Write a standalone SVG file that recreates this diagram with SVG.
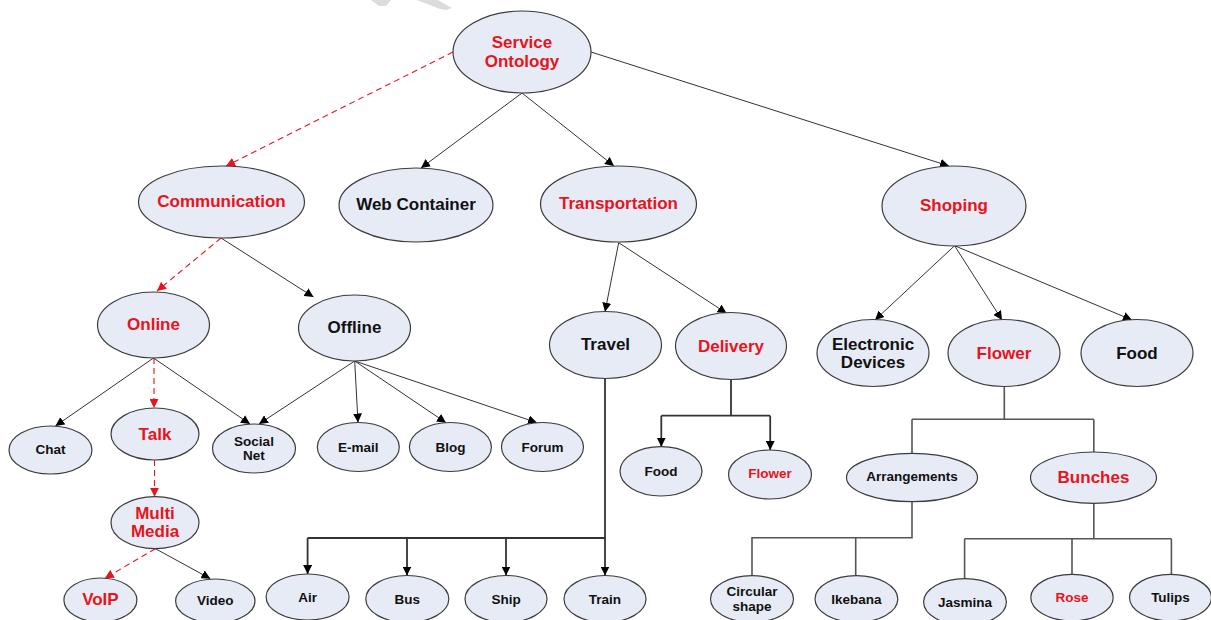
<svg xmlns="http://www.w3.org/2000/svg" width="1211" height="620" viewBox="0 0 1211 620">
<defs>
<marker id="ab" viewBox="0 0 10 10" refX="10" refY="5" markerWidth="9" markerHeight="9" markerUnits="userSpaceOnUse" orient="auto"><path d="M0,0 L10,5 L0,10 z" fill="#000"/></marker>
<marker id="ar" viewBox="0 0 10 10" refX="10" refY="5" markerWidth="9" markerHeight="9" markerUnits="userSpaceOnUse" orient="auto"><path d="M0,0 L10,5 L0,10 z" fill="#e8141c"/></marker>
<style>
.n ellipse{fill:#e6ebf6;stroke:#3c3c3c;stroke-width:1.2}
text{font-family:"Liberation Sans",Arial,sans-serif;font-weight:bold;text-anchor:middle}
.b{font-size:17px}
.s{font-size:13.5px}
.k{fill:#111}
.r{fill:#e8141c}
.c line,.c path{fill:none}
.l{stroke:#333;stroke-width:1}
.d{stroke:#e8141c;stroke-width:1.1;stroke-dasharray:6,4}
.t{stroke:#333;stroke-width:1.8}
.g{stroke:#555;stroke-width:1.6}
</style>
</defs>
<rect width="1211" height="620" fill="#fff"/>
<polygon points="371,0 391,0 386,6 379,6" fill="#dcdcdc"/>
<polygon points="417,0 438,0 452,8 446,10 440,9" fill="#dcdcdc"/>
<g id="connectors" class="c">
<line class="d" x1="453" y1="52" x2="226" y2="166" marker-end="url(#ar)"/>
<line class="l" x1="522" y1="93" x2="421" y2="168" marker-end="url(#ab)"/>
<line class="l" x1="522" y1="93" x2="614" y2="166" marker-end="url(#ab)"/>
<line class="l" x1="591" y1="52" x2="949" y2="166" marker-end="url(#ab)"/>
<line class="d" x1="221" y1="238" x2="157" y2="291" marker-end="url(#ar)"/>
<line class="l" x1="221" y1="238" x2="313.5" y2="297" marker-end="url(#ab)"/>
<line class="l" x1="153.5" y1="358" x2="55.4" y2="426" marker-end="url(#ab)"/>
<line class="d" x1="154" y1="358" x2="154" y2="408" marker-end="url(#ar)"/>
<line class="l" x1="153.5" y1="358" x2="250" y2="424" marker-end="url(#ab)"/>
<line class="l" x1="354.7" y1="361" x2="259" y2="424" marker-end="url(#ab)"/>
<line class="l" x1="354.7" y1="361" x2="358" y2="422.5" marker-end="url(#ab)"/>
<line class="l" x1="354.7" y1="361" x2="446" y2="422.7" marker-end="url(#ab)"/>
<line class="l" x1="354.7" y1="361" x2="537" y2="422.7" marker-end="url(#ab)"/>
<line class="d" x1="154.5" y1="460" x2="154.5" y2="496.7" marker-end="url(#ar)"/>
<line class="d" x1="155.4" y1="548.7" x2="104.8" y2="578.3" marker-end="url(#ar)"/>
<line class="l" x1="155.4" y1="548.7" x2="210.4" y2="578.7" marker-end="url(#ab)"/>
<line class="l" x1="618.7" y1="242.7" x2="605" y2="311.7" marker-end="url(#ab)"/>
<line class="l" x1="618.7" y1="242.7" x2="726.6" y2="313.3" marker-end="url(#ab)"/>
<line class="l" x1="954.6" y1="245.7" x2="875" y2="320" marker-end="url(#ab)"/>
<line class="l" x1="954.6" y1="245.7" x2="1002" y2="320" marker-end="url(#ab)"/>
<line class="l" x1="954.6" y1="245.7" x2="1132" y2="320" marker-end="url(#ab)"/>
<path class="t" d="M605,378.5 V538 H307.6"/>
<path class="t" d="M307.6,538 V574" marker-end="url(#ab)"/>
<path class="t" d="M407,538 V575.5" marker-end="url(#ab)"/>
<path class="t" d="M506,538 V575.5" marker-end="url(#ab)"/>
<path class="t" d="M605,538 V575.5" marker-end="url(#ab)"/>
<path class="t" d="M731,379.5 V415.7 M661.3,415.7 H770.2"/>
<path class="t" d="M661.3,415.7 V446.7" marker-end="url(#ab)"/>
<path class="t" d="M770.2,415.7 V450" marker-end="url(#ab)"/>
<path class="g" d="M1004.3,386.7 V419.3 M912,419.3 H1093.8 M912,419.3 V453.3 M1093.8,419.3 V452"/>
<path class="g" d="M912,501.7 V537.7 H752 V575.7 M855.7,537.7 V575.7"/>
<path class="g" d="M1093.8,503.3 V538.7 M964.6,538.7 H1171.4 M964.6,538.7 V578.7 M1072,538.7 V574.3 M1171.4,538.7 V574.3"/>
</g>
<g id="service" class="n"><ellipse cx="522" cy="52" rx="69" ry="41"/><text class="b r" x="522" y="48">Service</text><text class="b r" x="522" y="67">Ontology</text></g>
<g id="communication" class="n"><ellipse cx="221.5" cy="202" rx="83" ry="36"/><text class="b r" x="221.5" y="207">Communication</text></g>
<g id="webcontainer" class="n"><ellipse cx="416" cy="205" rx="77" ry="37"/><text class="b k" x="416" y="210">Web Container</text></g>
<g id="transportation" class="n"><ellipse cx="618.5" cy="204" rx="78" ry="38"/><text class="b r" x="618.5" y="209">Transportation</text></g>
<g id="shoping" class="n"><ellipse cx="954" cy="206" rx="72" ry="40"/><text class="b r" x="954" y="211">Shoping</text></g>
<g id="online" class="n"><ellipse cx="153.5" cy="325" rx="56" ry="33"/><text class="b r" x="153.5" y="330">Online</text></g>
<g id="offline" class="n"><ellipse cx="354.5" cy="328" rx="56" ry="33"/><text class="b k" x="354.5" y="333">Offline</text></g>
<g id="travel" class="n"><ellipse cx="605.5" cy="345" rx="56" ry="33.5"/><text class="b k" x="605.5" y="349.5">Travel</text></g>
<g id="delivery" class="n"><ellipse cx="731" cy="346" rx="55.5" ry="33.5"/><text class="b r" x="731" y="351.5">Delivery</text></g>
<g id="electronic" class="n"><ellipse cx="873" cy="353" rx="56" ry="33.5"/><text class="b k" x="873" y="349.5">Electronic</text><text class="b k" x="873" y="368">Devices</text></g>
<g id="flower" class="n"><ellipse cx="1004" cy="353" rx="56" ry="33.5"/><text class="b r" x="1004" y="358.5">Flower</text></g>
<g id="food" class="n"><ellipse cx="1137" cy="353" rx="56" ry="33.5"/><text class="b k" x="1137" y="358.5">Food</text></g>
<g id="chat" class="n"><ellipse cx="50.5" cy="450" rx="41.5" ry="24"/><text class="s k" x="50.5" y="454">Chat</text></g>
<g id="talk" class="n"><ellipse cx="155" cy="434" rx="44" ry="26"/><text class="b r" x="155" y="439.5">Talk</text></g>
<g id="socialnet" class="n"><ellipse cx="254" cy="448.5" rx="41.5" ry="24.5"/><text class="s k" x="254" y="445.5">Social</text><text class="s k" x="254" y="460">Net</text></g>
<g id="email" class="n"><ellipse cx="358.3" cy="447" rx="41" ry="24.5"/><text class="s k" x="358.3" y="451.5">E-mail</text></g>
<g id="blog" class="n"><ellipse cx="450.4" cy="447" rx="41" ry="24.5"/><text class="s k" x="450.4" y="451.5">Blog</text></g>
<g id="forum" class="n"><ellipse cx="542.5" cy="447" rx="41" ry="24.5"/><text class="s k" x="542.5" y="451.5">Forum</text></g>
<g id="multimedia" class="n"><ellipse cx="155" cy="522.7" rx="44" ry="26"/><text class="b r" x="155" y="518.7">Multi</text><text class="b r" x="155" y="536.7">Media</text></g>
<g id="voip" class="n"><ellipse cx="100.4" cy="600" rx="36.5" ry="22"/><text class="b r" x="100.4" y="604.7">VoIP</text></g>
<g id="video" class="n"><ellipse cx="215.3" cy="601" rx="39.7" ry="22"/><text class="s k" x="215.3" y="604.5">Video</text></g>
<g id="air" class="n"><ellipse cx="307.6" cy="597" rx="41.5" ry="23"/><text class="s k" x="307.6" y="602">Air</text></g>
<g id="bus" class="n"><ellipse cx="407.3" cy="599" rx="41.5" ry="23.5"/><text class="s k" x="407.3" y="604">Bus</text></g>
<g id="ship" class="n"><ellipse cx="506" cy="599" rx="41" ry="23.5"/><text class="s k" x="506" y="603.7">Ship</text></g>
<g id="train" class="n"><ellipse cx="605" cy="599" rx="41" ry="23.5"/><text class="s k" x="605" y="603.7">Train</text></g>
<g id="food-delivery" class="n"><ellipse cx="661" cy="471.3" rx="41" ry="24.7"/><text class="s k" x="661" y="475.7">Food</text></g>
<g id="flower-delivery" class="n"><ellipse cx="770" cy="474.5" rx="41.5" ry="24.5"/><text class="s r" x="770" y="478.4">Flower</text></g>
<g id="arrangements" class="n"><ellipse cx="912" cy="477.5" rx="65.5" ry="24.2"/><text class="s k" x="912" y="481.4">Arrangements</text></g>
<g id="bunches" class="n"><ellipse cx="1093.5" cy="477.7" rx="63" ry="25.7"/><text class="b r" x="1093.5" y="482.7">Bunches</text></g>
<g id="circular" class="n"><ellipse cx="752" cy="599" rx="41.5" ry="23.3"/><text class="s k" x="752" y="596.4">Circular</text><text class="s k" x="752" y="611.4">shape</text></g>
<g id="ikebana" class="n"><ellipse cx="856.4" cy="599" rx="41.4" ry="23.3"/><text class="s k" x="856.4" y="604">Ikebana</text></g>
<g id="jasmina" class="n"><ellipse cx="965" cy="602" rx="41.4" ry="23.3"/><text class="s k" x="965" y="607">Jasmina</text></g>
<g id="rose" class="n"><ellipse cx="1072" cy="597.6" rx="41.2" ry="23.3"/><text class="s r" x="1072" y="602.4">Rose</text></g>
<g id="tulips" class="n"><ellipse cx="1170.5" cy="597.6" rx="41" ry="23.3"/><text class="s k" x="1170.5" y="602.4">Tulips</text></g>
</svg>
